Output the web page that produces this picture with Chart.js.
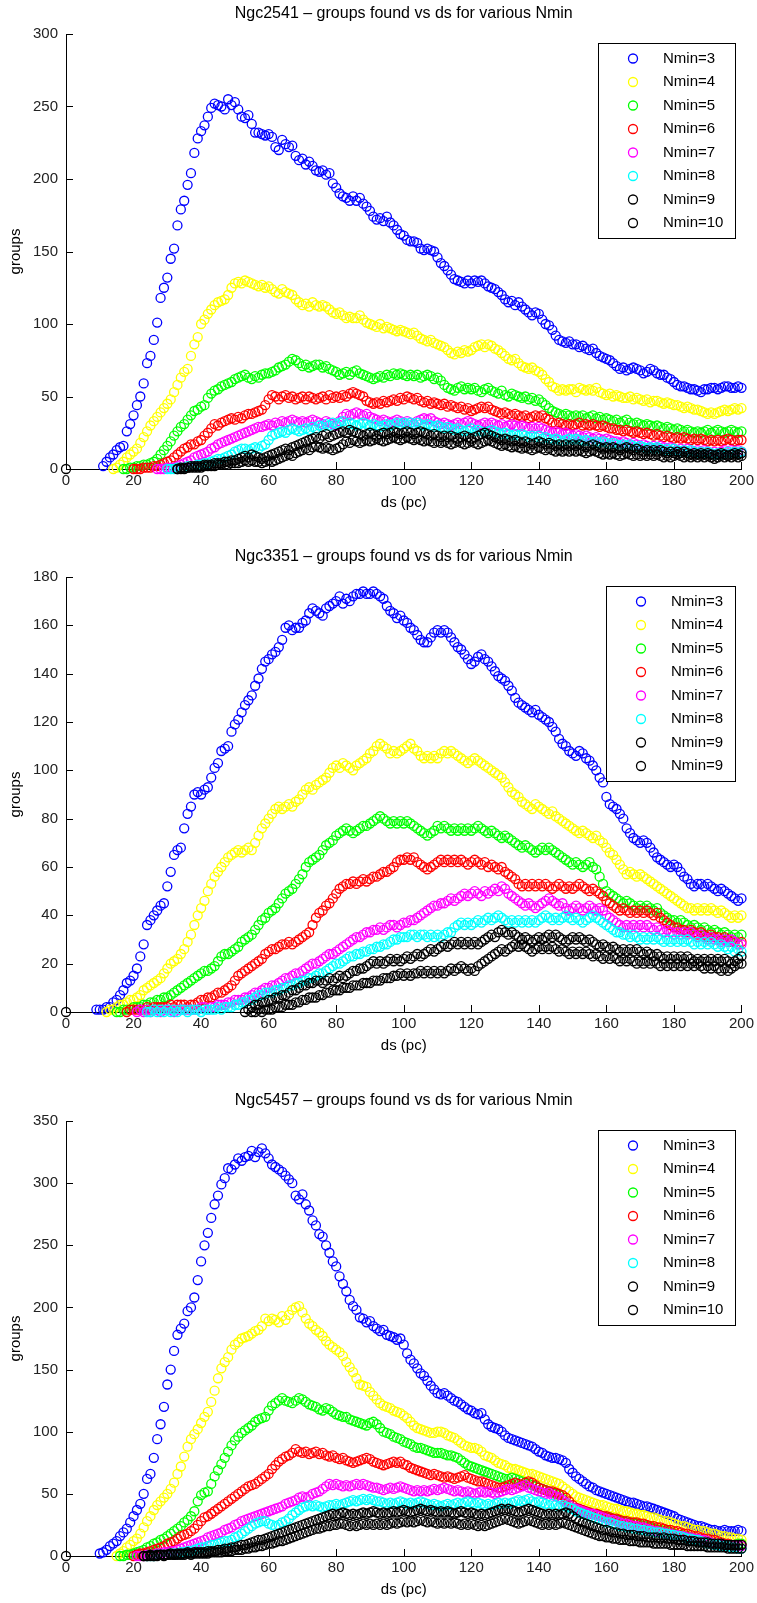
<!DOCTYPE html>
<html>
<head>
<meta charset="utf-8">
<script src="https://cdn.jsdelivr.net/npm/chart.js@4/dist/chart.umd.min.js"></script>
<style>
html,body{margin:0;padding:0;background:#fff;overflow:hidden;width:757px;height:1603px}
canvas{position:absolute;left:0}
</style>
</head>
<body>
<canvas id="c1" width="757" height="543" style="top:0px"></canvas>
<canvas id="c2" width="757" height="543" style="top:543px"></canvas>
<canvas id="c3" width="757" height="516" style="top:1087px"></canvas>
<script>
// ---------- labels / styling lists ----------
const titles = [
  'Ngc2541 \u2013 groups found vs ds for various Nmin',
  'Ngc3351 \u2013 groups found vs ds for various Nmin',
  'Ngc5457 \u2013 groups found vs ds for various Nmin'
];
const labels1 = ['Nmin=3','Nmin=4','Nmin=5','Nmin=6','Nmin=7','Nmin=8','Nmin=9','Nmin=10'];
const labels2 = ['Nmin=3','Nmin=4','Nmin=5','Nmin=6','Nmin=7','Nmin=8','Nmin=9','Nmin=9'];
const labels3 = ['Nmin=3','Nmin=4','Nmin=5','Nmin=6','Nmin=7','Nmin=8','Nmin=9','Nmin=10'];
const seriesColors = ['#0000ff','#ffff00','#00ff00','#ff0000','#ff00ff','#00ffff','#000000','#000000'];
const xTitle = 'ds (pc)';
const yTitle = 'groups';
const xMin = 0, xMax = 200, xStep = 20;
const yMax = [300, 180, 350];
const yStep = [50, 20, 50];
const originPoint = [0, 0]; // ds, groups

// ---------- Ngc2541 (panel 1): first ds of each series, then one value per ds step of 1 ----------
const p1Start = [11, 14, 17, 20, 27, 30, 33, 33];
const p1N3 = [2,5,8,10,13,15,16,26,31,37,
44,50,59,73,78,89,101,118,125,132,
145,152,168,179,185,196,204,218,228,233,
237,243,249,252,251,250,248,255,251,253,
248,243,242,244,238,232,232,231,230,231,
229,222,220,227,224,222,223,216,213,214,
210,212,209,206,205,206,203,204,197,194,
190,188,187,185,188,185,187,183,181,178,
174,172,173,171,174,170,168,165,162,161,
158,157,157,156,152,151,152,151,150,146,
142,140,137,134,131,130,129,128,130,128,
130,129,130,128,126,125,124,122,120,117,
115,116,113,115,112,110,108,106,108,107,
103,100,99,96,92,89,88,87,88,86,
86,84,85,83,82,83,80,78,77,76,
75,73,71,69,70,68,69,70,69,68,
66,67,69,68,66,65,65,63,62,60,
58,57,57,56,55,55,54,53,55,55,
56,56,55,56,57,57,56,56,57,56];
const p1N4 = [0,1,3,5,8,10,12,
14,18,22,26,30,33,36,39,42,45,
48,53,58,63,67,69,78,86,91,100,
103,107,110,113,115,116,117,120,125,128,
129,128,130,129,128,127,126,127,125,126,
124,122,121,124,122,121,120,117,115,113,
114,112,115,113,112,113,112,110,108,107,
108,106,104,105,104,104,106,103,101,100,
99,98,100,97,98,97,96,95,96,95,
94,93,94,92,90,89,88,89,87,86,
85,84,82,80,79,81,80,82,81,82,
84,85,86,84,86,85,83,82,80,78,
76,75,76,73,71,70,69,70,68,67,
65,62,60,57,56,54,55,54,55,55,
53,56,55,54,55,54,56,53,52,51,
52,50,51,50,49,49,50,48,49,48,
47,48,46,47,47,46,45,46,45,44,
44,43,42,43,42,41,41,40,39,38,
39,38,39,40,41,40,41,42,41,42];
const p1N5 = [0,0,1,1,
2,2,3,3,4,5,7,10,13,16,
19,23,26,29,31,34,37,40,41,43,
44,49,52,54,55,57,58,59,60,62,
63,64,65,63,62,64,63,65,66,66,
67,68,70,71,72,74,76,75,73,71,
72,70,71,72,72,70,71,69,68,67,
65,66,67,65,67,68,66,65,64,63,
62,63,64,63,65,64,66,65,66,65,
64,65,64,65,63,64,65,64,62,63,
61,58,56,55,54,56,57,55,56,55,
56,54,53,55,56,54,53,52,54,51,
50,52,51,50,49,50,48,49,47,48,
46,44,42,40,39,38,37,38,37,36,
37,36,37,35,36,37,35,36,34,35,
34,33,34,32,33,34,32,31,32,31,
30,31,30,29,30,29,28,29,28,27,
28,27,26,27,26,25,26,25,26,27,
25,26,27,26,25,26,27,26,25,26];
const p1N6 = [0,
0,0,1,1,1,2,2,3,4,5,
6,8,10,12,14,15,17,17,19,20,
23,25,28,31,30,32,33,34,35,34,
36,35,37,38,38,39,40,41,44,48,
51,50,48,50,51,49,50,48,49,50,
48,50,49,48,49,50,48,51,49,50,
49,51,50,52,53,52,51,50,47,46,
45,46,45,47,46,47,48,47,49,48,
50,49,48,49,47,46,47,45,46,45,
44,45,43,44,43,42,43,41,42,40,
41,42,43,42,43,41,40,39,38,39,
38,37,38,37,36,37,35,36,37,36,
37,35,34,32,31,32,31,30,31,30,
31,32,30,31,30,31,30,29,30,29,
28,28,27,27,26,27,26,25,26,25,
24,25,24,23,24,23,22,23,22,21,
22,21,22,21,20,21,20,21,20,19,
20,19,20,19,20,21,20,19,20,20];
const p1N7 = [0,0,0,1,
1,1,2,3,4,5,6,8,9,10,
11,12,14,15,17,18,19,20,21,22,
23,24,25,26,27,28,29,29,30,31,
30,32,31,33,32,33,34,33,32,33,
32,33,34,33,32,31,33,32,31,30,
33,36,38,37,38,39,38,37,38,36,
35,34,33,34,33,32,33,34,33,32,
33,32,31,33,34,35,34,35,33,32,
31,32,31,30,31,32,31,32,33,32,
31,30,31,32,31,32,31,30,31,29,
30,31,30,29,30,29,28,29,28,29,
28,27,26,25,26,25,24,25,24,23,
24,23,22,23,22,21,22,21,20,21,
20,19,19,18,19,18,17,18,17,16,
17,16,15,16,15,16,15,14,15,14,
13,14,13,14,13,12,13,12,13,12,
11,12,11,12,13,12,13,12,13,12];
const p1N8 = [0,
0,0,1,1,1,2,2,2,3,3,
4,4,5,6,7,7,8,9,10,12,
13,14,14,13,14,15,14,16,17,20,
23,24,25,26,25,27,28,27,26,27,
28,27,29,28,30,29,31,30,32,31,
32,33,31,32,31,30,31,32,31,30,
31,30,29,30,31,30,31,32,31,32,
31,32,31,32,31,30,31,30,29,30,
29,28,29,28,27,28,27,26,27,28,
26,27,26,25,26,27,26,25,24,25,
24,23,24,23,24,23,22,23,22,23,
21,22,21,20,21,20,19,20,21,20,
21,20,19,20,19,18,19,18,19,18,
17,18,17,16,17,16,17,16,15,16,
15,14,15,14,15,14,13,14,13,14,
13,12,13,12,13,12,11,12,11,12,
11,10,11,10,11,12,11,12,11,12];
const p1N9 = [0,1,1,1,2,2,2,2,
3,3,3,4,4,4,5,5,6,6,
7,8,9,8,10,9,8,7,8,9,
10,11,12,13,14,13,15,16,17,18,
19,20,21,22,21,23,24,22,23,24,
25,26,25,27,26,25,24,23,24,25,
24,23,24,25,24,25,26,25,24,25,
26,25,24,25,26,25,24,23,24,23,
22,23,22,23,22,21,22,23,22,21,
22,23,24,25,24,23,22,21,20,21,
20,19,20,19,18,19,18,17,18,19,
18,17,18,17,16,17,16,17,16,17,
16,17,16,15,16,17,16,15,14,15,
14,15,14,13,14,15,14,13,14,13,
12,13,12,13,12,13,12,11,12,11,
12,11,12,11,10,11,10,11,10,11,
10,9,10,11,10,9,10,11,10,11];
const p1N10 = [0,0,0,1,1,1,1,1,
2,2,2,2,3,3,3,3,4,4,
4,5,6,5,6,5,5,4,5,6,
5,6,7,8,9,10,9,11,12,13,
14,13,15,16,15,14,15,14,13,14,
15,17,19,18,20,19,18,19,20,19,
20,21,20,19,20,21,22,21,20,21,
22,21,20,21,20,19,20,19,18,19,
18,19,18,17,18,19,18,17,18,19,
18,17,18,19,20,19,18,17,16,17,
16,15,16,15,14,15,14,13,14,15,
14,13,14,13,12,13,12,13,12,13,
12,13,12,11,12,13,12,11,10,11,
10,11,10,9,10,11,10,9,10,9,
10,9,10,9,10,9,8,9,8,9,
10,9,8,9,8,9,8,9,8,9,
8,7,8,9,8,9,8,9,8,9];

// ---------- Ngc3351 (panel 2) ----------
const p2Start = [9, 12, 15, 18, 21, 24, 53, 55];
const p2N3 = [1,1,
1,2,2,4,5,7,9,12,13,15,
18,23,28,36,38,40,42,44,45,52,
58,65,67,68,76,82,85,90,91,90,
92,93,97,101,103,108,109,110,116,119,
121,124,127,129,131,135,138,142,145,146,
148,149,151,154,159,160,158,159,159,161,
162,165,167,166,165,164,167,168,169,170,
172,169,171,170,172,173,173,174,173,173,
174,173,172,171,168,166,165,163,164,162,
161,159,158,156,154,153,153,155,157,158,
157,158,157,155,153,151,150,148,146,144,
145,147,148,146,145,143,141,139,138,137,
135,133,130,128,127,126,125,124,125,123,
122,121,120,118,116,113,111,110,108,107,
106,108,107,105,104,102,100,97,95,89,
86,85,84,82,80,76,74,72,71,70,
71,70,68,66,64,63,62,61,60,61,
60,58,56,55,53,52,53,53,52,53,
52,51,50,51,50,49,48,47,46,47];
const p2N4 = [0,1,1,2,3,3,4,5,5,
6,7,9,10,11,12,13,14,16,18,
20,21,22,24,26,29,32,36,40,43,
46,50,53,56,58,60,62,64,65,66,
67,66,67,68,67,70,73,76,78,80,
82,84,85,84,85,86,85,87,88,90,
92,93,92,94,95,96,97,99,101,102,
101,103,102,101,100,102,103,104,105,107,
108,110,111,110,109,107,108,107,108,109,
110,111,109,108,106,105,106,105,106,105,
107,108,107,108,107,106,105,104,103,104,
105,104,103,102,101,100,99,98,97,95,
93,91,90,89,87,86,85,84,86,85,
84,83,82,83,81,80,79,78,77,76,
75,74,75,74,73,72,73,71,70,68,
66,65,63,61,59,57,58,57,56,57,
56,55,54,53,52,51,50,49,48,47,
46,45,44,43,43,42,43,42,43,42,
43,42,41,42,41,40,39,40,39,40];
const p2N5 = [0,0,1,1,1,2,
2,2,3,3,4,4,5,5,6,6,
7,8,9,10,11,12,13,14,15,16,
17,17,18,19,21,23,24,24,25,26,
27,29,30,31,32,34,36,38,39,41,
42,43,45,47,49,50,51,53,55,57,
60,62,63,64,65,67,69,70,71,73,
74,75,76,75,74,75,76,77,77,78,
79,80,81,80,79,78,79,78,79,78,
79,78,77,76,75,74,73,74,75,77,
76,77,76,75,76,75,76,75,76,75,
76,77,76,75,74,75,74,73,72,73,
72,71,70,69,68,69,68,67,66,67,
68,67,68,67,66,65,64,63,62,61,
62,61,60,61,62,60,59,56,53,50,
49,48,47,46,45,46,45,44,43,44,
43,44,43,42,43,41,40,39,38,38,
37,38,37,36,35,36,35,34,35,34,
33,34,33,32,33,32,31,32,31,32];
const p2N6 = [0,1,1,
1,1,1,2,1,2,2,2,2,2,
3,2,3,3,3,2,3,3,4,5,
5,6,6,7,8,8,9,10,11,13,
15,16,17,18,19,20,21,22,24,25,
26,26,27,28,28,29,28,29,30,31,
32,33,36,39,41,42,44,45,47,49,
51,52,53,53,54,53,54,55,54,55,
56,56,57,58,58,59,60,62,63,63,
64,63,64,62,61,60,59,60,61,62,
63,62,63,62,63,62,63,62,61,62,
63,62,61,62,60,61,60,59,60,58,
57,56,55,53,52,53,52,53,52,53,
52,53,52,51,52,53,52,51,52,51,
52,53,52,51,50,51,50,49,48,46,
45,44,43,42,43,42,41,42,41,42,
41,42,41,40,41,39,38,37,36,35,
35,34,34,33,34,33,32,33,32,31,
32,31,31,30,31,30,29,29,28,29];
const p2N7 = [0,1,0,1,0,1,1,0,1,1,
1,0,1,1,1,1,1,1,1,2,
2,1,2,2,3,3,3,4,4,5,
5,5,6,6,7,8,8,9,10,10,
11,11,12,13,14,14,15,16,16,17,
18,19,20,20,21,22,23,24,24,25,
26,27,28,29,30,31,31,32,33,33,
34,34,35,34,35,36,36,35,36,37,
37,38,38,39,40,41,42,43,44,44,
45,45,46,47,46,47,48,49,48,49,
50,49,48,50,49,50,51,50,52,51,
49,48,47,46,45,44,45,44,43,44,
45,46,47,46,45,44,45,43,42,43,
44,43,42,43,44,43,42,43,42,40,
39,38,37,36,35,36,35,36,35,36,
35,36,35,34,35,34,33,34,33,32,
33,32,33,32,33,32,31,32,31,30,
31,30,30,29,30,29,30,29,28,28];
const p2N8 = [0,0,1,0,1,0,1,
0,1,0,1,1,0,1,1,1,0,
1,1,1,1,2,1,2,2,2,3,
3,4,4,5,5,6,7,7,8,8,
8,9,9,10,10,11,11,12,12,13,
13,14,14,15,16,16,17,18,19,20,
20,21,22,23,23,24,24,25,25,26,
26,27,27,28,28,29,30,30,31,31,
31,32,32,31,32,32,31,32,31,32,
31,32,33,33,35,36,37,36,37,36,
37,38,37,38,39,38,39,40,39,38,
37,38,37,38,37,38,37,38,37,38,
39,40,39,38,39,38,39,40,39,38,
39,38,37,38,39,40,39,38,37,36,
35,34,33,33,32,32,31,32,31,30,
31,30,31,30,31,30,29,30,29,30,
29,30,29,30,29,28,29,28,29,28,
29,28,27,28,27,26,27,25,26,25];
const p2N9 = [0,1,2,3,3,4,4,5,
5,6,6,7,7,8,9,9,10,11,
11,12,12,13,13,12,13,14,13,14,
15,14,15,16,17,17,18,18,19,20,
21,20,21,20,21,22,21,22,21,22,
23,22,23,24,23,24,25,26,25,26,
27,28,27,28,29,28,29,28,29,28,
29,28,29,30,31,32,31,33,34,33,
32,33,32,31,30,31,30,29,30,31,
30,31,32,31,32,31,30,29,30,31,
30,31,30,29,30,29,28,27,28,27,
26,27,26,25,26,25,26,25,26,25,
24,25,24,23,24,23,22,23,22,23,
22,23,22,23,22,21,22,21,22,21,
22,21,22,21,22,21,20,21,22,23];
const p2N9b = [0,0,1,0,1,1,
1,2,2,2,3,3,3,4,4,5,
5,6,6,6,7,7,8,8,9,9,
9,10,10,10,11,11,11,12,12,12,
13,13,13,14,14,14,15,15,16,15,
16,15,16,16,17,16,17,16,17,16,
17,16,17,18,17,18,19,18,17,18,
17,19,20,21,22,23,24,25,26,25,
26,27,28,27,28,27,26,25,26,27,
26,27,26,27,26,25,26,25,24,25,
24,25,24,25,24,23,24,23,22,23,
22,23,22,21,22,21,22,21,20,21,
20,21,20,21,20,19,20,19,20,19,
20,19,20,19,20,19,20,19,18,19,
18,19,18,17,18,17,18,19,20,20];

// ---------- Ngc5457 (panel 3) ----------
const p3Start = [10, 15, 16, 20, 21, 24, 23, 23];
const p3N3 = [2,
3,5,8,10,12,16,19,22,27,32,
37,42,50,62,66,79,94,106,120,138,
150,165,178,183,187,197,200,208,222,237,
250,260,272,283,290,299,304,312,311,315,
320,318,321,322,326,321,325,328,324,320,
315,313,311,309,306,303,300,290,287,291,
283,278,270,266,259,257,250,244,237,233,
225,219,213,206,201,198,192,191,188,189,
185,183,181,182,178,177,176,174,175,170,
163,158,155,151,147,145,141,137,134,131,
130,131,129,127,125,124,122,120,118,117,
115,114,115,110,106,104,103,102,100,97,
95,94,93,92,91,90,89,88,86,84,
83,81,80,79,79,78,77,75,70,67,
64,62,60,58,56,55,53,52,51,50,
49,48,47,46,45,44,43,43,42,41,
40,40,39,38,37,36,35,34,33,32,
30,29,28,27,26,25,24,24,23,22,
21,21,20,20,21,20,20,20,21,20];
const p3N4 = [0,2,4,7,9,12,
14,18,23,28,32,37,41,44,47,50,
54,59,66,72,80,88,94,98,102,107,
112,116,124,133,143,151,156,160,166,170,
172,175,176,177,179,181,182,185,191,189,
191,190,188,193,190,194,198,200,201,196,
191,187,185,182,180,177,173,170,168,166,
164,161,156,152,148,143,138,137,136,132,
129,126,123,121,120,119,117,116,115,113,
111,108,105,103,102,101,100,99,99,100,
100,99,97,96,95,93,91,89,88,87,
87,86,84,81,80,79,77,75,74,73,
71,70,70,69,68,67,66,66,65,64,
63,62,61,60,59,58,56,54,52,50,
48,47,46,45,44,43,42,41,41,40,
39,38,38,37,36,36,35,34,34,33,
33,32,31,31,30,29,28,28,27,26,
25,24,24,23,22,21,21,20,20,19,
18,18,17,16,16,15,15,14,14,13];
const p3N5 = [0,0,1,1,2,
3,4,5,7,8,10,11,13,14,16,
18,20,22,24,27,29,32,36,44,49,
51,52,58,64,69,74,79,84,89,93,
96,99,101,103,105,108,110,111,112,117,
121,123,125,127,125,124,123,125,127,126,
124,122,121,120,118,117,119,118,116,114,
113,112,112,110,109,108,107,106,105,107,
108,106,103,100,99,98,96,95,94,92,
91,90,88,87,87,86,85,84,83,83,
83,82,81,81,80,79,77,75,73,72,
71,70,69,68,67,66,65,64,63,62,
62,63,62,61,60,59,58,57,56,55,
54,53,52,51,50,49,46,43,41,39,
38,37,36,35,35,34,33,33,32,31,
31,30,29,28,28,27,27,26,26,25,
24,24,23,22,21,21,20,20,19,18,
17,17,16,16,15,14,14,13,13,12,
11,10,10,10,10,9,9,9,10,10];
const p3N6 = [0,
1,2,2,3,4,5,6,7,8,10,
11,12,14,16,17,18,20,22,25,28,
31,32,34,36,38,40,42,44,46,48,
50,52,54,56,57,58,60,62,64,66,
70,73,76,78,80,81,83,86,84,83,
84,82,83,84,82,83,81,80,81,79,
78,79,77,76,75,76,77,78,79,78,
76,75,74,73,74,75,76,75,76,74,
73,71,70,69,68,67,66,65,66,65,
64,63,64,63,62,63,64,65,63,62,
61,60,60,59,58,57,56,55,55,56,
57,58,59,58,57,59,60,59,57,55,
54,53,52,52,51,50,49,47,44,41,
39,38,37,36,35,34,34,33,32,32,
31,30,30,29,28,28,27,27,27,26,
26,25,24,24,23,23,22,21,21,20,
20,19,18,18,17,16,16,15,14,14,
13,13,12,11,10,10,9,9,9,9];
const p3N7 = [0,0,0,1,1,1,2,2,3,3,
4,4,5,6,7,8,9,10,11,12,
13,15,16,17,18,19,21,22,23,25,
26,28,29,30,31,32,33,34,35,36,
37,38,39,40,42,43,44,45,47,48,
47,48,50,51,52,54,56,58,57,58,
57,56,57,56,57,58,57,58,57,56,
55,55,54,53,54,55,54,55,56,55,
54,53,52,53,52,53,52,53,54,53,
54,55,54,53,52,53,52,51,52,51,
50,51,52,51,52,51,50,51,52,53,
54,53,54,55,56,57,55,54,53,52,
51,50,51,49,48,47,45,43,41,39,
38,37,36,35,34,34,33,32,31,30,
29,29,28,27,26,26,25,24,24,23,
23,22,21,20,20,19,19,18,18,17,
17,16,16,15,15,14,14,13,13,12,
11,10,10,9,9,9,9,8,8,8];
const p3N8 = [0,0,0,1,1,1,1,
2,2,2,3,3,4,4,5,6,7,
7,8,9,9,10,11,12,12,13,15,
16,18,20,22,24,26,27,28,28,26,
25,24,25,27,28,30,33,35,37,39,
40,41,40,41,40,39,40,41,41,42,
41,42,43,44,45,44,45,46,45,46,
45,44,44,43,42,43,42,43,44,43,
42,43,42,43,44,43,42,41,42,41,
40,41,42,41,42,43,42,43,44,43,
42,43,42,41,42,41,42,43,42,43,
42,43,44,45,44,45,46,44,43,44,
43,42,41,42,41,40,41,40,39,38,
36,35,34,33,32,31,30,29,28,27,
27,26,25,24,24,23,23,22,22,21,
21,20,20,19,19,19,18,18,17,17,
16,16,15,14,14,13,13,12,11,10,
10,9,9,8,8,8,7,7,6,6];
const p3N9 = [0,0,1,0,1,1,1,1,
2,1,2,2,2,3,2,3,3,3,
3,4,4,4,5,5,6,6,7,7,
8,9,9,10,11,12,13,13,14,15,
16,17,18,19,20,21,22,23,24,25,
26,27,28,29,30,31,32,33,34,33,
34,35,34,33,34,33,34,35,34,35,
36,35,34,35,34,35,36,35,36,37,
36,35,36,37,38,37,36,37,36,35,
36,35,36,35,34,35,36,35,34,35,
34,33,34,33,34,35,36,37,38,37,
38,37,36,35,36,37,38,37,36,35,
34,33,34,33,34,33,34,35,34,32,
30,28,27,26,25,24,23,22,21,21,
20,19,19,18,18,17,17,17,16,16,
16,15,15,15,15,14,15,14,14,14,
13,13,13,12,12,12,11,11,11,11,
10,10,10,10,9,9,9,9,9,9];
const p3N10 = [0,0,0,0,0,1,0,1,
1,1,1,1,1,2,1,2,2,2,
2,2,3,3,3,3,4,4,4,5,
5,5,6,6,7,7,8,8,9,10,
10,11,12,12,13,14,15,16,17,18,
19,20,21,22,22,23,24,24,25,25,
26,26,25,24,25,24,25,26,25,26,
25,26,25,26,25,26,27,26,27,28,
27,28,27,28,29,28,27,28,27,26,
27,26,27,26,27,26,25,26,25,26,
25,24,25,24,25,26,27,28,29,30,
29,28,27,26,27,28,29,28,27,26,
25,26,25,26,25,26,27,26,25,24,
23,22,21,20,19,18,17,16,16,15,
15,14,14,13,13,13,12,12,12,11,
11,11,11,10,10,10,10,10,9,9,
9,9,9,8,8,8,8,8,8,7,
7,7,7,7,7,6,6,6,6,6];

// ---------- chart building ----------
const FONT = '"Liberation Sans", Arial, Helvetica, sans-serif';
Chart.defaults.font.family = FONT;

function toPoints(start, vals) {
  return vals.map((v, i) => ({ x: start + i, y: v }));
}

const inwardTicks = {
  id: 'inwardTicks',
  beforeDatasetsDraw(chart) {
    const { ctx, chartArea: a, scales: { x, y } } = chart;
    ctx.save();
    ctx.strokeStyle = '#000';
    ctx.lineWidth = 1;
    ctx.beginPath();
    x.ticks.forEach(t => {
      const px = Math.round(x.getPixelForValue(t.value)) + 0.5;
      ctx.moveTo(px, a.bottom);
      ctx.lineTo(px, a.bottom - 7);
    });
    y.ticks.forEach(t => {
      const py = Math.round(y.getPixelForValue(t.value)) + 0.5;
      ctx.moveTo(a.left, py);
      ctx.lineTo(a.left + 7, py);
    });
    ctx.stroke();
    ctx.restore();
  }
};

const boxLegend = {
  id: 'boxLegend',
  afterDatasetsDraw(chart) {
    const { ctx, chartArea: a } = chart;
    const items = chart.data.datasets.filter(d => d.label);
    ctx.save();
    ctx.font = '15px ' + FONT;
    const maxW = Math.max(...items.map(d => ctx.measureText(d.label).width));
    const w = Math.round(65 + maxW + 12);
    const h = 195;
    const right = Math.round(a.right - 6);
    const top = Math.round(a.top + 9);
    const left = right - w;
    ctx.fillStyle = '#fff';
    ctx.fillRect(left, top, w, h);
    ctx.strokeStyle = '#000';
    ctx.lineWidth = 1;
    ctx.strokeRect(left + 0.5, top + 0.5, w, h);
    ctx.textBaseline = 'middle';
    ctx.textAlign = 'left';
    items.forEach((d, i) => {
      const cy = top + 15.5 + i * 23.5;
      ctx.beginPath();
      ctx.arc(left + 35, cy, 4.5, 0, Math.PI * 2);
      ctx.lineWidth = 1.3;
      ctx.strokeStyle = d.borderColor;
      ctx.stroke();
      ctx.fillStyle = '#000';
      ctx.fillText(d.label, left + 65, cy);
    });
    ctx.restore();
  }
};

function makeChart(id, k, labels, starts, series, padBottom) {
  const datasets = series.map((vals, i) => ({
    label: labels[i],
    data: toPoints(starts[i], vals),
    borderColor: seriesColors[i],
    backgroundColor: 'rgba(0,0,0,0)',
    pointBackgroundColor: 'rgba(0,0,0,0)',
    pointBorderColor: seriesColors[i],
    pointBorderWidth: 1.3,
    pointRadius: 4.5,
    pointStyle: 'circle',
    showLine: false,
    clip: false,
    order: 20 - i
  }));
  datasets.push({
    label: '',
    data: [{ x: originPoint[0], y: originPoint[1] }],
    borderColor: '#000',
    pointBackgroundColor: 'rgba(0,0,0,0)',
    pointBorderColor: '#000',
    pointBorderWidth: 1.3,
    pointRadius: 4.5,
    showLine: false,
    clip: false,
    order: 0
  });
  const tickFont = { family: FONT, size: 15 };
  return new Chart(document.getElementById(id), {
    type: 'scatter',
    data: { datasets },
    plugins: [inwardTicks, boxLegend],
    options: {
      responsive: false,
      animation: false,
      devicePixelRatio: 1,
      events: [],
      layout: { padding: { left: 0, right: 15, top: 0, bottom: padBottom } },
      plugins: {
        legend: { display: false },
        tooltip: { enabled: false },
        title: {
          display: true,
          fullSize: false,
          text: titles[k],
          color: '#000',
          font: { family: FONT, size: 16, weight: 'normal' },
          padding: { top: 4, bottom: 10.8 }
        }
      },
      scales: {
        x: {
          type: 'linear',
          min: xMin, max: xMax,
          ticks: { stepSize: xStep, padding: 3, color: '#222', font: tickFont, maxRotation: 0, autoSkip: false },
          grid: { display: false, drawTicks: false },
          border: { display: true, color: '#000', width: 1 },
          title: { display: true, text: xTitle, color: '#000', font: tickFont, padding: { top: 0, bottom: 4 } },
          afterFit: s => { s.height = 47; }
        },
        y: {
          type: 'linear',
          min: 0, max: yMax[k],
          ticks: { stepSize: yStep[k], padding: 8, color: '#222', font: tickFont, autoSkip: false },
          grid: { display: false, drawTicks: false },
          border: { display: true, color: '#000', width: 1 },
          title: { display: true, text: yTitle, color: '#000', font: tickFont, padding: { top: 7, bottom: 0 } },
          afterFit: s => { s.width = 66; }
        }
      }
    }
  });
}

makeChart('c1', 0, labels1, p1Start, [p1N3, p1N4, p1N5, p1N6, p1N7, p1N8, p1N9, p1N10], 27);
makeChart('c2', 1, labels2, p2Start, [p2N3, p2N4, p2N5, p2N6, p2N7, p2N8, p2N9, p2N9b], 27);
makeChart('c3', 2, labels3, p3Start, [p3N3, p3N4, p3N5, p3N6, p3N7, p3N8, p3N9, p3N10], 0);
</script>
</body>
</html>
